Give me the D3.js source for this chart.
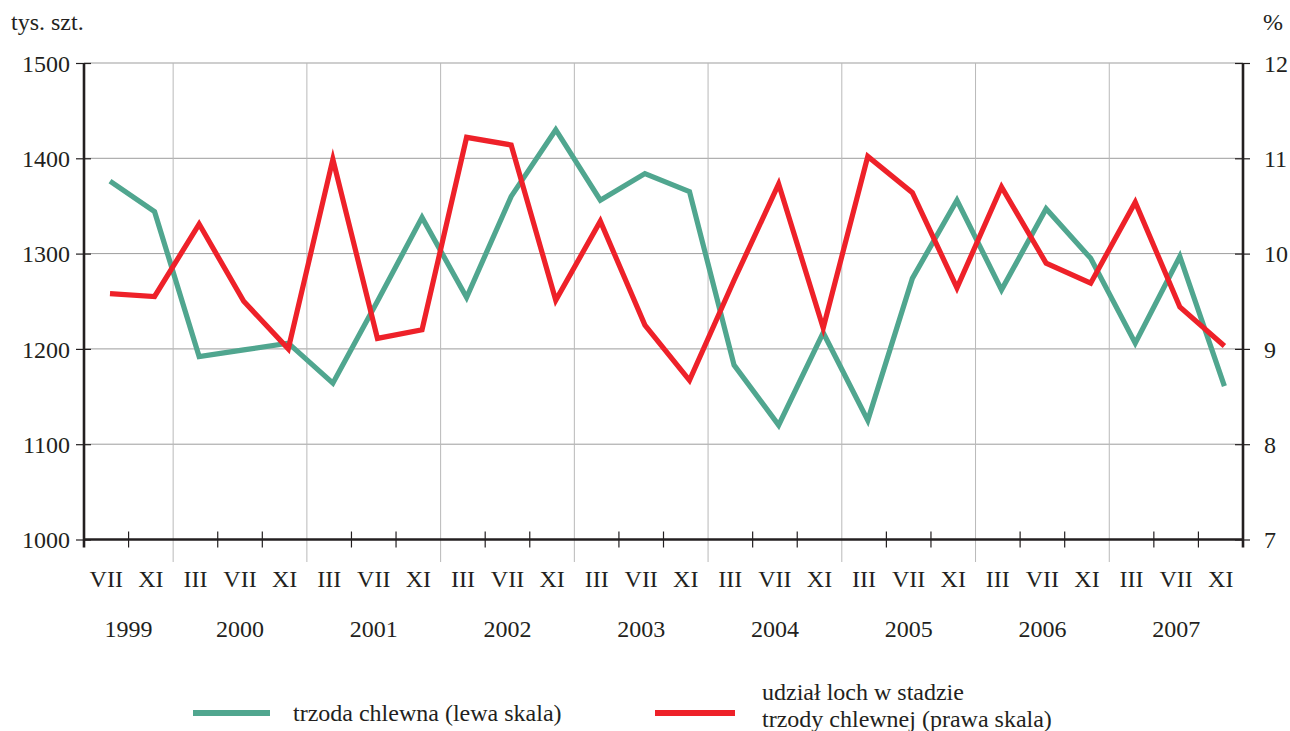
<!DOCTYPE html>
<html>
<head>
<meta charset="utf-8">
<script src="https://cdn.jsdelivr.net/npm/d3@7"></script>
<style>
  body { margin: 0; background: #fff; }
  svg { display: block; }
  text { font-family: "Liberation Serif", "Times New Roman", serif; fill: #231f20; }
</style>
</head>
<body>
<svg id="chart" width="1290" height="731"></svg>
<script>
// ---- data ----
const months = ["VII","XI","III","VII","XI","III","VII","XI","III","VII","XI","III","VII","XI","III","VII","XI","III","VII","XI","III","VII","XI","III","VII","XI"];
const years  = ["1999","1999","2000","2000","2000","2001","2001","2001","2002","2002","2002","2003","2003","2003","2004","2004","2004","2005","2005","2005","2006","2006","2006","2007","2007","2007"];
const pigs   = [1376,1344,1192,1199,1206,1164,1250,1338,1254,1360,1430,1356,1384,1365,1183,1120,1217,1125,1274,1356,1262,1347,1295,1206,1297,1161];
const sows   = [9.58,9.55,10.31,9.50,9.00,10.99,9.11,9.20,11.22,11.14,9.51,10.34,9.25,8.67,9.72,10.73,9.22,11.02,10.64,9.64,10.70,9.90,9.69,10.54,9.44,9.03];
const leftTicks  = [1000,1100,1200,1300,1400,1500];
const rightTicks = [7,8,9,10,11,12];
const leftUnit = "tys. szt.";
const rightUnit = "%";
const seriesNames = ["trzoda chlewna (lewa skala)", ["udział loch w stadzie", "trzody chlewnej (prawa skala)"]];

// ---- layout ----
const L = 84, R = 1243, T = 63, B = 539.5;
const FS = 24;
const green = "#50a68f", red = "#ee2129", ink = "#231f20";
const svg = d3.select("#chart");

const idx = d3.range(months.length);
const x = d3.scaleBand().domain(idx).range([L, R]).padding(0);
const bw = x.bandwidth();
const px = i => x(i) + bw * 0.583;
const yL = d3.scaleLinear().domain([1000, 1500]).range([B, T]);
const yR = d3.scaleLinear().domain([7, 12]).range([B, T]);

// horizontal gridlines
svg.append("g").selectAll("line").data(leftTicks.slice(1)).join("line")
  .attr("x1", L).attr("x2", R).attr("y1", d => yL(d)).attr("y2", d => yL(d))
  .attr("stroke", "#9d9d9d").attr("stroke-width", 1);

// year boundaries (vertical gridlines)
const yearStarts = idx.filter(i => i > 0 && years[i] !== years[i - 1]);
svg.append("g").selectAll("line").data(yearStarts).join("line")
  .attr("x1", d => x(d)).attr("x2", d => x(d)).attr("y1", T).attr("y2", 562)
  .attr("stroke", "#b9b9b9").attr("stroke-width", 1);

// bottom axis ticks (non-year boundaries)
const minorTicks = idx.filter(i => i > 0 && years[i] === years[i - 1]);
svg.append("g").selectAll("line").data(minorTicks).join("line")
  .attr("x1", d => x(d)).attr("x2", d => x(d)).attr("y1", B - 8).attr("y2", B + 8)
  .attr("stroke", ink).attr("stroke-width", 1.2);

// left axis
const gl = svg.append("g").attr("transform", `translate(${L},0)`)
  .call(d3.axisLeft(yL).tickValues(leftTicks).tickSize(8).tickPadding(6).tickFormat(d3.format("d")));
gl.select(".domain").remove();
gl.selectAll(".tick line").attr("x2", -8).attr("x1", 7).attr("stroke", ink).attr("stroke-width", 1.2);
gl.selectAll(".tick text").attr("font-size", FS).attr("font-family", "Liberation Serif").attr("fill", ink).attr("x", -14).attr("dy", "0.34em");

// right axis
const gr = svg.append("g").attr("transform", `translate(${R},0)`)
  .call(d3.axisRight(yR).tickValues(rightTicks).tickSize(8).tickPadding(6).tickFormat(d3.format("d")));
gr.select(".domain").remove();
gr.selectAll(".tick line").attr("x1", -8).attr("x2", 7).attr("stroke", ink).attr("stroke-width", 1.2);
gr.selectAll(".tick text").attr("font-size", FS).attr("font-family", "Liberation Serif").attr("fill", ink).attr("x", 21).attr("dy", "0.34em");

// axis lines
svg.append("line").attr("x1", L).attr("x2", L).attr("y1", T).attr("y2", B + 8).attr("stroke", ink).attr("stroke-width", 2.6);
svg.append("line").attr("x1", R).attr("x2", R).attr("y1", T).attr("y2", B + 8).attr("stroke", ink).attr("stroke-width", 2.6);
svg.append("line").attr("x1", L).attr("x2", R).attr("y1", B).attr("y2", B).attr("stroke", ink).attr("stroke-width", 2.6);

// month labels
svg.append("g").selectAll("text").data(idx).join("text")
  .attr("x", i => x(i) + bw / 2).attr("y", 587)
  .attr("text-anchor", "middle").attr("font-size", FS).text(i => months[i]);

// year labels
const yearList = Array.from(new Set(years));
svg.append("g").selectAll("text").data(yearList).join("text")
  .attr("x", yv => {
    const is = idx.filter(i => years[i] === yv);
    return (x(is[0]) + x(is[is.length - 1]) + bw) / 2;
  })
  .attr("y", 637).attr("text-anchor", "middle").attr("font-size", FS).text(d => d);

// units
svg.append("text").attr("x", 11).attr("y", 30).attr("font-size", FS).text(leftUnit);
svg.append("text").attr("x", 1263).attr("y", 30).attr("font-size", FS).text(rightUnit);

// lines
const lineL = d3.line().x((d, i) => px(i)).y(d => yL(d));
const lineR = d3.line().x((d, i) => px(i)).y(d => yR(d));
svg.append("path").datum(pigs).attr("d", lineL).attr("fill", "none")
  .attr("stroke", green).attr("stroke-width", 5.2).attr("stroke-linejoin", "miter").attr("stroke-miterlimit", 10);
svg.append("path").datum(sows).attr("d", lineR).attr("fill", "none")
  .attr("stroke", red).attr("stroke-width", 5.2).attr("stroke-linejoin", "miter").attr("stroke-miterlimit", 10);

// legend
const lg = svg.append("g");
lg.append("line").attr("x1", 193).attr("x2", 270).attr("y1", 713).attr("y2", 713).attr("stroke", green).attr("stroke-width", 6);
lg.append("text").attr("x", 293).attr("y", 721).attr("font-size", FS).text(seriesNames[0]);
lg.append("line").attr("x1", 655).attr("x2", 735).attr("y1", 713).attr("y2", 713).attr("stroke", red).attr("stroke-width", 6);
lg.append("text").attr("x", 762).attr("y", 700).attr("font-size", FS).text(seriesNames[1][0]);
lg.append("text").attr("x", 762).attr("y", 727).attr("font-size", FS).text(seriesNames[1][1]);
</script>
</body>
</html>
